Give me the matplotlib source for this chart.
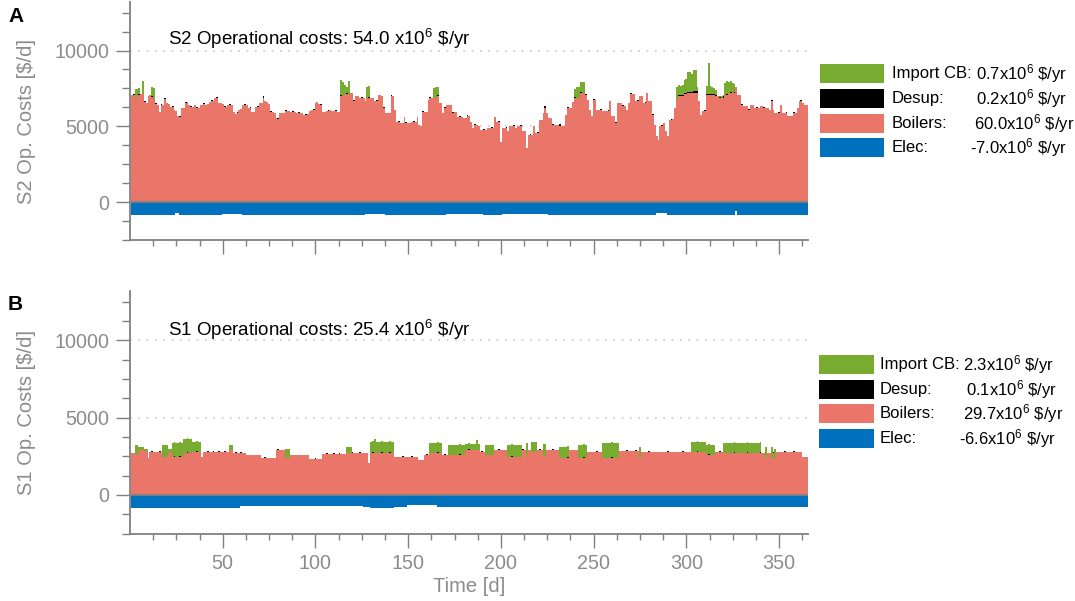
import numpy as np
import matplotlib.pyplot as plt
from matplotlib.patches import Rectangle

plt.rcParams['font.family'] = ['Liberation Sans', 'DejaVu Sans']
plt.rcParams['mathtext.default'] = 'regular'

# ---------------- data ----------------
DAYS = np.arange(1, 366)

# S2 daily boiler costs [$/d], days 1..365
BOILERS_A = [
    7080, 7080, 6900, 6950, 7050, 7100, 7150, 6600, 6550, 7000,
    7050, 6950, 6800, 6500, 6400, 5950, 6420, 6420, 6800, 6550,
    6500, 6300, 6250, 6090, 6000, 5650, 5600, 6200, 6200, 6550,
    6600, 6400, 6300, 6300, 6400, 6200, 6200, 6400, 6420, 6450,
    6420, 6450, 6600, 6650, 6700, 6860, 6860, 6550, 6550, 6500,
    6300, 6300, 6400, 6420, 6400, 5950, 5800, 5850, 6100, 6150,
    6420, 6420, 6400, 6200, 6200, 5950, 5950, 6300, 6300, 6550,
    6550, 6900, 6700, 6600, 6500, 5950, 5950, 5900, 5560, 5500,
    5870, 5870, 5900, 6000, 5980, 6000, 5950, 5950, 5950, 5900,
    5880, 5870, 5880, 5760, 5760, 5780, 5980, 6100, 6100, 6550,
    6600, 6500, 6420, 5950, 5950, 6000, 6000, 6050, 6000, 5980,
    6000, 5950, 5950, 6980, 7000, 7150, 7100, 7050, 7190, 7190,
    6650, 7000, 6970, 6860, 6860, 6860, 6640, 6860, 6860, 6860,
    6860, 6640, 6640, 7080, 7080, 6970, 6200, 5900, 5900, 5870,
    7000, 7000, 6100, 5310, 5310, 5200, 5200, 5600, 5200, 5200,
    5200, 5310, 5310, 5310, 5640, 5100, 5050, 5970, 5970, 5970,
    6740, 6860, 6860, 6860, 6860, 6970, 6530, 6530, 5870, 6200,
    6420, 6420, 6420, 5870, 5930, 5930, 5640, 5640, 5640, 5530,
    5530, 5690, 5690, 5310, 4900, 5100, 5100, 5050, 4770, 4770,
    4770, 4770, 4880, 4880, 4880, 4880, 5640, 5310, 5310, 3990,
    4880, 4880, 4880, 4660, 5000, 5000, 5000, 4880, 5000, 5000,
    5000, 4660, 4660, 3550, 4440, 4440, 4440, 5000, 4550, 4550,
    5420, 5420, 5870, 6240, 5870, 5530, 5530, 5090, 5090, 5090,
    5090, 5050, 5050, 5050, 5760, 6200, 6200, 6240, 6600, 6860,
    6860, 6860, 7190, 7190, 7190, 7080, 6750, 6090, 5650, 6750,
    6750, 6090, 6090, 6090, 5980, 5980, 5980, 5980, 6640, 5650,
    5650, 5200, 6530, 6530, 6530, 6310, 6310, 6090, 6530, 7100,
    7100, 7100, 6640, 6640, 6970, 6970, 6530, 6530, 7190, 6640,
    6640, 5760, 5100, 4330, 4110, 5000, 5000, 5200, 4660, 4330,
    5420, 5420, 5490, 6200, 6750, 6970, 6970, 6970, 7100, 7100,
    7190, 7190, 7190, 7230, 7230, 7230, 6640, 5760, 5980, 5980,
    7080, 7080, 7080, 7080, 7080, 6970, 6970, 6860, 6900, 6900,
    7080, 7080, 7190, 7190, 7190, 7190, 7620, 7080, 7080, 6420,
    6310, 6310, 6310, 6090, 6420, 6420, 6200, 6200, 6200, 6310,
    6310, 6200, 6200, 6200, 6090, 6640, 6090, 5870, 5870, 5870,
    6420, 5870, 5870, 5870, 5650, 5650, 5650, 5870, 5870, 6200,
    6640, 6640, 6530, 6420, 6420,
]

IMPORT_A_DAYS = [3, 4, 5, 7, 12, 13, 114, 115, 116, 117, 118, 128, 129,
                 164, 165, 166, 240, 241, 242, 243, 244, 245,
                 295, 296, 297, 298, 299, 300, 301, 302, 303, 304, 305, 306,
                 311, 312, 313, 314, 315, 316, 318, 319, 320, 321, 322, 323,
                 324, 325, 326]
IMPORT_A_VALS = [550, 500, 400, 850, 550, 700, 1000, 900, 600, 400, 950, 700, 750,
                 650, 700, 550, 500, 700, 700, 650, 700, 700,
                 850, 700, 600, 700, 900, 950, 1300, 1300, 1200, 1400, 1390, 300,
                 500, 2000, 500, 450, 400, 350, 100, 100, 100, 800, 820, 700,
                 700, 650, 500]

DESUP_A_DAYS = [2, 5, 8, 12, 14, 17, 19, 23, 27, 30, 33, 36, 40, 44, 47, 51, 54,
                58, 62, 65, 69, 72, 76, 80, 84, 88, 91, 95, 99, 103, 107, 111,
                114, 117, 121, 125, 129, 133, 137, 141, 145, 149, 153, 158, 162,
                166, 170, 174, 178, 182, 186, 191, 195, 199, 203, 207, 211, 216,
                220, 224, 228, 232, 236, 240, 243, 246, 250, 254, 258, 262, 266,
                270, 274, 278, 282, 287, 292, 296, 297, 298, 299, 300, 301, 302,
                303, 304, 305, 306, 310, 311, 312, 313, 314, 315, 316, 318, 320,
                322, 324, 326, 330, 334, 338, 342, 346, 350, 354, 358, 362]
DESUP_A_VAL = 70

# (first day, last day, value)
ELEC_A_RUNS = [(1, 24, -840), (25, 26, -700), (27, 49, -840), (50, 60, -790),
               (61, 126, -840), (127, 137, -760), (138, 170, -840),
               (171, 190, -780), (191, 200, -840), (201, 225, -790),
               (226, 283, -830), (284, 289, -720), (290, 326, -840),
               (327, 327, -600), (328, 365, -840)]

BOILERS_B_RUNS = [(1, 2, 2700), (3, 4, 2590), (5, 7, 2900), (8, 9, 2850), (10, 10, 2370),
                  (11, 17, 2800), (18, 20, 2450), (21, 22, 2800), (23, 28, 2480),
                  (29, 33, 2700), (34, 38, 2800), (39, 39, 2480), (40, 53, 2750),
                  (54, 55, 2900), (56, 62, 2700), (63, 70, 2550), (71, 78, 2420),
                  (79, 83, 2900), (84, 86, 2370), (87, 96, 2550), (97, 103, 2330),
                  (104, 116, 2650), (117, 128, 2700), (129, 129, 2050), (130, 142, 2700),
                  (143, 155, 2480), (156, 158, 2260), (159, 161, 2590), (162, 168, 2700),
                  (169, 180, 2590), (181, 188, 2900), (189, 191, 2800), (192, 196, 2590),
                  (197, 203, 2900), (204, 211, 2480), (212, 213, 2900), (214, 214, 2590),
                  (215, 216, 2900), (217, 219, 2800), (220, 222, 2900), (223, 224, 2500),
                  (225, 231, 2900), (232, 236, 2370), (237, 241, 2900), (242, 246, 2370),
                  (247, 254, 2800), (255, 263, 2370), (264, 274, 2850), (275, 275, 2370),
                  (276, 302, 2750), (303, 310, 2800), (311, 315, 2590), (316, 319, 2800),
                  (320, 342, 2700), (343, 343, 2370), (344, 345, 2700), (346, 346, 2370),
                  (347, 347, 2700), (348, 348, 2370), (349, 362, 2800), (363, 365, 2480)]

IMPORT_B_RUNS = [(3, 4, 650), (5, 7, 200), (8, 9, 150), (18, 20, 780), (21, 22, 150),
                 (23, 28, 860), (29, 33, 900), (34, 38, 650), (54, 55, 330), (84, 86, 600),
                 (117, 119, 430), (130, 131, 750), (132, 132, 950), (133, 142, 750),
                 (162, 168, 640), (172, 180, 650), (181, 186, 380), (187, 187, 660),
                 (188, 188, 380), (192, 196, 650), (204, 211, 750), (214, 214, 750),
                 (217, 219, 650), (223, 224, 780), (232, 236, 760), (242, 246, 860),
                 (255, 263, 970), (275, 275, 760), (303, 310, 650), (311, 315, 650),
                 (320, 340, 640), (343, 343, 700), (346, 346, 700), (348, 348, 600)]

DESUP_B_DAYS = [12, 16, 24, 27, 31, 36, 42, 45, 48, 51, 57, 60, 66, 73, 80, 88, 93,
                100, 106, 110, 113, 120, 124, 131, 136, 140, 147, 152, 160, 166, 170,
                178, 183, 190, 199, 206, 212, 221, 228, 236, 245, 252, 260, 268, 273,
                280, 290, 298, 306, 312, 318, 326, 333, 340, 347, 353, 358]
DESUP_B_VAL = 60

ELEC_B_RUNS = [(1, 59, -820), (60, 125, -720), (126, 129, -800), (130, 142, -860),
               (143, 149, -800), (150, 165, -660), (166, 365, -810)]

TITLES = ['S2 Operational costs: 54.0 x10$^6$ \\$/yr',
          'S1 Operational costs: 25.4 x10$^6$ \\$/yr']
YLABELS = ['S2 Op. Costs [$/d]', 'S1 Op. Costs [$/d]']
LEG_NAMES = ['Import CB:', 'Desup:', 'Boilers:', 'Elec:']
LEG_VALUES = [['0.7', '0.2', '60.0', '-7.0'],
              ['2.3', '0.1', '29.7', '-6.6']]

C_IMPORT = '#77AC30'
C_DESUP = '#000000'
C_BOIL = '#EA7669'
C_ELEC = '#0072BD'
GRAY = '#808080'
LABEL_GRAY = '#8c8c8c'


def from_runs(runs):
    out = np.zeros(365)
    for a, b, v in runs:
        out[a - 1:b] = v
    return out


def from_days(days, vals):
    out = np.zeros(365)
    out[np.array(days) - 1] = vals
    return out


boil_a = np.array(BOILERS_A, dtype=float)
imp_a = from_days(IMPORT_A_DAYS, IMPORT_A_VALS)
des_a = from_days(DESUP_A_DAYS, DESUP_A_VAL)
elec_a = from_runs(ELEC_A_RUNS)

boil_b = from_runs(BOILERS_B_RUNS)
imp_b = from_runs(IMPORT_B_RUNS)
des_b = from_days(DESUP_B_DAYS, DESUP_B_VAL)
elec_b = from_runs(ELEC_B_RUNS)

# ---------------- figure ----------------
W, H = 1075, 601
fig = plt.figure(figsize=(W / 100, H / 100), dpi=100)

ax_a = fig.add_axes([130 / W, 1 - 240 / H, 678 / W, 238 / H])
ax_b = fig.add_axes([130 / W, 1 - 533.5 / H, 678 / W, 242.5 / H])

panels = [(ax_a, boil_a, des_a, imp_a, elec_a), (ax_b, boil_b, des_b, imp_b, elec_b)]

for i, (ax, boil, des, imp, elec) in enumerate(panels):
    kw = dict(width=1.0, linewidth=0, antialiased=False, zorder=2)
    ax.bar(DAYS, boil, color=C_BOIL, **kw)
    ax.bar(DAYS, des, bottom=boil, color=C_DESUP, **kw)
    ax.bar(DAYS, imp, bottom=boil + des, color=C_IMPORT, **kw)
    ax.bar(DAYS, elec, color=C_ELEC, **kw)
    ax.axhline(0, color=GRAY, lw=1.3, zorder=3)

    ax.set_xlim(0, 365.6)
    ax.set_ylim(-2500, 13200)
    ax.set_xticks(np.arange(50, 351, 50))
    ax.set_xticks(np.arange(12.5, 365, 12.5), minor=True)
    ax.set_yticks([0, 5000, 10000])
    ax.set_yticks(np.arange(-2500, 13000, 1250), minor=True)
    for y in (5000, 10000):
        ax.axhline(y, color='#c8c8c8', lw=1.2, ls=(0, (1, 4)), zorder=1)

    for s in ('top', 'right'):
        ax.spines[s].set_visible(False)
    for s in ('left', 'bottom'):
        ax.spines[s].set_color(GRAY)
        ax.spines[s].set_linewidth(1.3)
    ax.tick_params(which='major', direction='out', length=10, width=1.0,
                   color=GRAY, labelcolor=LABEL_GRAY, labelsize=14.2, pad=5)
    ax.tick_params(which='minor', direction='out', length=4.5, width=1.0, color=GRAY)
    ax.tick_params(axis='y', which='minor', length=5.5)

    ax.set_ylabel(YLABELS[i], color=LABEL_GRAY, fontsize=14.5)
    ax.yaxis.set_label_coords(-0.138, 0.5)
    ax.text(20.5, 10350 if i == 0 else 10300, TITLES[i], fontsize=13.5,
            color='black', va='baseline', ha='left')

ax_a.tick_params(axis='x', labelbottom=False)
ax_b.set_xlabel('Time [d]', color=LABEL_GRAY, fontsize=14.5, labelpad=3)

# overlay in pixel coordinates for panel letters and legends
ov = fig.add_axes([0, 0, 1, 1])
ov.set_xlim(0, W)
ov.set_ylim(H, 0)
ov.axis('off')
ov.text(8, 16, 'A', fontsize=15, fontweight='bold', va='center')
ov.text(8, 304, 'B', fontsize=15, fontweight='bold', va='center')

leg_rows = [[73.3, 98.3, 123.3, 147.3], [364.5, 389.5, 413.8, 438.3]]
leg_patch_x = [(820, 64), (819, 55)]
leg_name_x = [891.5, 880]
leg_val_x = [[975.5, 976.5, 974, 970], [963.3, 965.7, 963.3, 959.3]]
colors = [C_IMPORT, C_DESUP, C_BOIL, C_ELEC]
for p in range(2):
    px, pw = leg_patch_x[p]
    for r in range(4):
        yc = leg_rows[p][r]
        ov.add_patch(Rectangle((px, yc - 9.5), pw, 19, facecolor=colors[r],
                               edgecolor='none'))
        ov.text(leg_name_x[p], yc, LEG_NAMES[r], fontsize=12, va='center', ha='left')
        ov.text(leg_val_x[p][r], yc, LEG_VALUES[p][r] + 'x10$^6$ \\$/yr',
                fontsize=12, va='center', ha='left')

fig.savefig('out.png', dpi=100)
